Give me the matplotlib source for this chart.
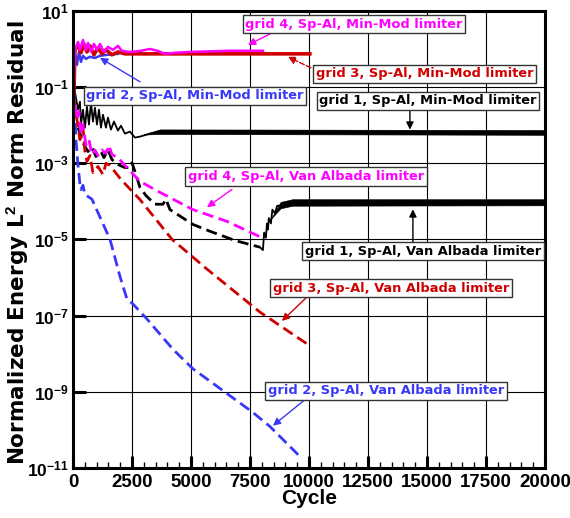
import numpy as np
import matplotlib
matplotlib.use("Agg")
import matplotlib.pyplot as plt
from matplotlib.ticker import FixedLocator, MultipleLocator, FuncFormatter

plt.rcParams['font.family'] = ['Liberation Sans', 'DejaVu Sans']
plt.rcParams['font.weight'] = 'bold'
plt.rcParams['mathtext.fontset'] = 'custom'
plt.rcParams['mathtext.rm'] = 'Liberation Sans:bold'
plt.rcParams['mathtext.bf'] = 'Liberation Sans:bold'
plt.rcParams['mathtext.it'] = 'Liberation Sans:bold'

MAGENTA = '#ff00ff'
RED = '#d00000'
BLUE = '#3838f8'
BLACK = 'black'

# ---- data (cycle, residual) ----
# grid 4, Min-Mod (solid magenta)
g4_mm_cycle = [42, 85, 212, 297, 424, 551, 636, 763, 890, 1017, 1144, 1313, 1483, 1695,
               1907, 2076, 2415, 2839, 3262, 3601, 3898, 4322, 4957, 5805, 6652, 7500, 8050]
g4_mm_res = [0.113, 0.955, 1.5, 0.93, 1.69, 0.93, 1.41, 0.82, 1.33, 0.93, 1.33, 0.82, 1.11, 0.93,
             1.18, 0.87, 0.82, 0.87, 0.98, 0.87, 0.73, 0.78, 0.82, 0.85, 0.88, 0.88, 0.88]

# grid 3, Min-Mod (solid red)
g3_mm_cycle = [42, 85, 212, 339, 466, 593, 720, 890, 1060, 1229, 1398, 1652, 1907, 2203,
               2839, 5500, 10040]
g3_mm_res = [0.062, 0.93, 1.23, 0.78, 1.33, 0.82, 1.18, 0.69, 1.05, 0.73, 0.93, 0.69, 0.82, 0.73,
             0.73, 0.73, 0.73]

# grid 2, Min-Mod (solid blue)
g2_mm_cycle = [42, 85, 170, 254, 339, 424, 551, 720, 932, 1144, 1483, 1907]
g2_mm_res = [0.046, 0.69, 0.376, 0.82, 0.45, 0.65, 0.54, 0.61, 0.57, 0.65, 0.69, 0.73]

# grid 1, Min-Mod (solid black)
g1_mm_cycle = [42, 85, 212, 297, 339, 424, 508, 593, 678, 763, 847, 932, 1017, 1102, 1186,
               1271, 1398, 1483, 1610, 1737, 1907, 2034, 2203, 2415, 2627, 2839, 3262, 3686,
               8000, 14000, 20000]
g1_mm_res = [0.1, 0.074, 0.0251, 0.0406, 0.0102, 0.0251, 0.00847, 0.0300, 0.0102, 0.0382,
             0.0122, 0.0282, 0.0102, 0.0251, 0.00847, 0.0185, 0.00847, 0.0155, 0.00752,
             0.0122, 0.00708, 0.00955, 0.0059, 0.00667, 0.00465, 0.00493, 0.0059, 0.00690,
             0.0067, 0.0066, 0.0064]
# noise band of the converged part
g1_mm_band_cycle = [3000, 3700, 20000]
g1_mm_band_lo = [5.6e-3, 5.8e-3, 5.5e-3]
g1_mm_band_hi = [5.6e-3, 7.6e-3, 7.3e-3]

# grid 4, Van Albada (dashed magenta)
g4_va_cycle = [85, 170, 254, 339, 424, 551, 678, 805, 932, 1060, 1229, 1398, 1525, 1652,
               1907, 2288, 2839, 3686, 5084, 6525, 8050]
g4_va_res = [0.034, 0.0138, 0.0223, 5.6e-3, 0.0102, 3.0e-3, 4.1e-3, 1.66e-3, 2.2e-3, 1.57e-3,
             2.2e-3, 1.78e-3, 2.9e-3, 1.66e-3, 1.38e-3, 7.6e-4, 3.3e-4, 1.7e-4, 6.0e-5,
             2.95e-5, 1.07e-5]

# grid 3, Van Albada (dashed red)
g3_va_cycle = [42, 170, 297, 424, 508, 593, 720, 847, 1060, 1271, 1398, 1568, 2034, 2839,
               4195, 5678, 7923, 10042]
g3_va_res = [0.046, 0.0138, 4.1e-3, 8.5e-3, 2.0e-3, 1.1e-3, 1.57e-3, 5.6e-4, 8.1e-4, 5.0e-4,
             9.8e-4, 8.6e-4, 3.7e-4, 1.1e-4, 1.0e-5, 1.65e-6, 1.23e-7, 1.6e-8]

# grid 2, Van Albada (dashed blue)
g2_va_cycle = [42, 127, 212, 297, 339, 424, 508, 805, 1568, 1991, 2288, 2542, 3135, 4237,
               5084, 7584, 8347, 9618]
g2_va_res = [0.083, 4.1e-3, 9.1e-4, 2.75e-4, 2.0e-4, 2.6e-4, 1.5e-4, 1.12e-4, 1.0e-5, 1.07e-6,
             2.7e-7, 2.0e-7, 8.1e-8, 1.3e-8, 4.0e-9, 3.0e-10, 1.23e-10, 2.0e-11]

# grid 1, Van Albada (dashed black, then solid after the jump)
g1_va_cycle = [212, 466, 636, 805, 975, 1186, 1313, 1483, 1652, 1907, 2203, 2415, 2500, 2627,
               2839, 3093, 3474, 3813, 3940, 4110, 5084, 5805, 6864, 7923]
g1_va_res = [8.5e-3, 3.0e-3, 2.0e-3, 2.6e-3, 1.48e-3, 2.0e-3, 1.38e-3, 2.24e-3, 1.23e-3, 9.1e-4,
             7.6e-4, 7.6e-4, 1.02e-3, 6.0e-4, 2.3e-4, 1.4e-4, 8.3e-5, 8.3e-5, 1.12e-4, 6.0e-5,
             2.45e-5, 1.62e-5, 9.3e-6, 6.2e-6]
g1_va_jump_cycle = [7923, 8050, 8100, 8177, 8220, 8262, 8300, 8389, 8450, 8559, 8650, 8771,
                    9194, 10465, 20000]
g1_va_jump_res = [6.2e-6, 5.2e-6, 1.5e-5, 1.1e-5, 2.6e-5, 1.8e-5, 3.6e-5, 2.6e-5, 6.0e-5,
                  4.8e-5, 7.5e-5, 7.7e-5, 8.7e-5, 9.3e-5, 9.3e-5]
g1_va_band_cycle = [8400, 8800, 9300, 20000]
g1_va_band_lo = [3.5e-5, 6.5e-5, 7.6e-5, 7.8e-5]
g1_va_band_hi = [3.5e-5, 9.5e-5, 1.12e-4, 1.12e-4]

# annotation layout: text, colour, text centre, arrow tail, arrow head, arrow line style
notes = [
    ("grid 4, Sp-Al, Min-Mod limiter", MAGENTA, (11906, 4.4), (8432, 2.58), (7415, 1.25), '-'),
    ("grid 3, Sp-Al, Min-Mod limiter", RED, (14914, 0.219), (10084, 0.314), (9110, 0.608), '--'),
    ("grid 2, Sp-Al, Min-Mod limiter", BLUE, (5169, 0.0582), (2839, 0.135), (1144, 0.573), '-'),
    ("grid 1, Sp-Al, Min-Mod limiter", BLACK, (15041, 0.043), (14279, 0.0251), (14279, 7.5e-3), '-'),
    ("grid 4, Sp-Al, Van Albada limiter", MAGENTA, (9872, 4.43e-4), (6737, 2.03e-4), (5678, 6.9e-5), '-'),
    ("grid 1, Sp-Al, Van Albada limiter", BLACK, (14830, 4.85e-6), (14406, 8.4e-6), (14406, 6.1e-5), '-'),
    ("grid 3, Sp-Al, Van Albada limiter", RED, (13474, 5.2e-7), (9915, 3.05e-7), (8855, 7.2e-8), '-'),
    ("grid 2, Sp-Al, Van Albada limiter", BLUE, (13262, 1.06e-9), (9830, 6.2e-10), (8474, 1.29e-10), '-'),
]

fig = plt.figure(figsize=(5.7, 5.18), dpi=100)
ax = fig.add_axes([0.128, 0.0965, 0.828, 0.8832])

dash = (4, 2)
ax.plot(g1_mm_cycle, g1_mm_res, color=BLACK, lw=1.3)
ax.fill_between(g1_mm_band_cycle, g1_mm_band_lo, g1_mm_band_hi, color=BLACK, lw=0.5)
ax.plot(g1_va_cycle, g1_va_res, color=BLACK, lw=2.0, dashes=dash)
ax.plot(g1_va_jump_cycle, g1_va_jump_res, color=BLACK, lw=1.3)
ax.fill_between(g1_va_band_cycle, g1_va_band_lo, g1_va_band_hi, color=BLACK, lw=0.5)
ax.plot(g2_va_cycle, g2_va_res, color=BLUE, lw=2.0, dashes=dash)
ax.plot(g3_va_cycle, g3_va_res, color=RED, lw=2.0, dashes=dash)
ax.plot(g4_va_cycle, g4_va_res, color=MAGENTA, lw=2.0, dashes=dash)
ax.plot(g2_mm_cycle, g2_mm_res, color=BLUE, lw=1.8)
ax.plot(g3_mm_cycle, g3_mm_res, color=RED, lw=2.6)
ax.plot(g4_mm_cycle, g4_mm_res, color=MAGENTA, lw=1.8)

for txt, col, pos, tail, head, ls in notes:
    ax.annotate('', xy=head, xytext=tail,
                arrowprops=dict(arrowstyle='-|>', color=col, lw=1.0, ls=ls,
                                mutation_scale=11, shrinkA=0, shrinkB=0))
    ax.text(pos[0], pos[1], txt, color=col, fontsize=9.4, fontweight='bold',
            family='DejaVu Sans', ha='center', va='center',
            bbox=dict(boxstyle='square,pad=0.2', fc='white', ec='#333333', lw=1.0))

ax.set_yscale('log')
ax.set_xlim(0, 20000)
ax.set_ylim(1e-11, 10)
ax.yaxis.set_major_locator(FixedLocator([10.0 ** e for e in range(-11, 2, 2)]))
ax.yaxis.set_minor_locator(FixedLocator([]))
ax.yaxis.set_major_formatter(FuncFormatter(lambda v, p: r'$\mathbf{10^{%d}}$' % round(np.log10(v))))
ax.xaxis.set_major_locator(MultipleLocator(2500))
ax.xaxis.set_minor_locator(MultipleLocator(500))

ax.grid(True, which='major', color='black', lw=0.8)
ax.tick_params(axis='both', which='major', direction='in', length=9, width=2.2)
ax.tick_params(axis='x', which='minor', direction='in', length=4.5, width=1.0)
ax.tick_params(axis='x', which='major', pad=4, labelsize=13.5)
ax.tick_params(axis='y', which='major', pad=3, labelsize=12.5)
for lab in ax.get_xticklabels():
    lab.set_fontweight('bold')
for s in ax.spines.values():
    s.set_linewidth(2.2)

ax.set_xlabel('Cycle', fontsize=15, fontweight='bold', labelpad=-1)
ax.set_ylabel(r'Normalized Energy L$^2$ Norm Residual', fontsize=15.5, fontweight='bold',
              family='DejaVu Sans')
ax.yaxis.set_label_coords(-0.088, 0.492)

fig.savefig('out.png', dpi=100)
